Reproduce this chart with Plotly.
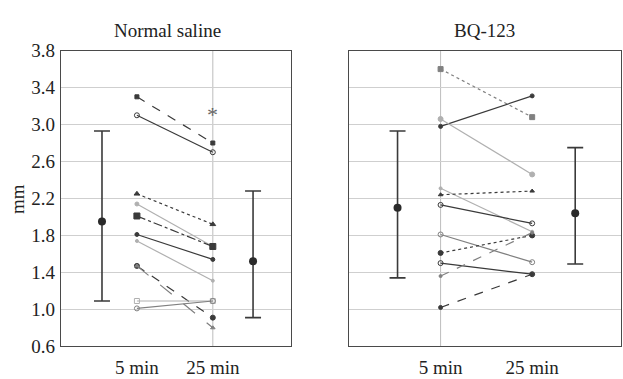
import plotly.graph_objects as go

# ---------------- data ----------------
time_x = [1, 2]
time_labels = ["5 min", "25 min"]
y_ticks = [0.6, 1.0, 1.4, 1.8, 2.2, 2.6, 3.0, 3.4, 3.8]
y_tick_labels = ["0.6", "1.0", "1.4", "1.8", "2.2", "2.6", "3.0", "3.4", "3.8"]

ns_5min = [3.30, 3.10, 2.25, 2.14, 2.01, 1.81, 1.74, 1.47, 1.47, 1.09, 1.01]
ns_25min = [2.80, 2.70, 1.92, 1.68, 1.68, 1.54, 1.31, 0.91, 0.80, 1.09, 1.09]

bq_5min = [3.60, 2.98, 3.06, 2.31, 2.24, 2.13, 1.81, 1.61, 1.50, 1.36, 1.02]
bq_25min = [3.08, 3.31, 2.46, 1.84, 2.28, 1.93, 1.51, 1.80, 1.38, 1.83, 1.38]

# mean +/- sd summaries (left bar = 5 min, right bar = 25 min)
ns_summary_x = [0.54, 2.53]
ns_mean = [1.95, 1.52]
ns_upper = [2.93, 2.28]
ns_lower = [1.09, 0.91]

bq_summary_x = [0.53, 2.47]
bq_mean = [2.10, 2.04]
bq_upper = [2.93, 2.75]
bq_lower = [1.34, 1.49]

ns_star = 3.11

# ---------------- styles ----------------
DARK = "#3a3a3a"
MID = "#808080"
LIGHT = "#b0b0b0"

ns_styles = [
    dict(color=DARK, dash="dash", symbol="square", size=4),
    dict(color=DARK, dash="solid", symbol="circle-open", size=5),
    dict(color=DARK, dash="dot", symbol="triangle-up", size=5),
    dict(color=LIGHT, dash="solid", symbol="circle", size=4),
    dict(color=DARK, dash="dashdot", symbol="square", size=6),
    dict(color=DARK, dash="solid", symbol="circle", size=4),
    dict(color=LIGHT, dash="solid", symbol="circle", size=3),
    dict(color=DARK, dash="dash", symbol="circle", size=5),
    dict(color=MID, dash="longdash", symbol="triangle-up", size=4),
    dict(color=LIGHT, dash="solid", symbol="square-open", size=5),
    dict(color=MID, dash="solid", symbol="circle-open", size=5),
]
bq_styles = [
    dict(color=MID, dash="dot", symbol="square", size=5),
    dict(color=DARK, dash="solid", symbol="circle", size=4),
    dict(color=LIGHT, dash="solid", symbol="circle", size=5),
    dict(color=LIGHT, dash="solid", symbol="circle", size=3),
    dict(color=DARK, dash="dot", symbol="triangle-up", size=4),
    dict(color=DARK, dash="solid", symbol="circle-open", size=5),
    dict(color=MID, dash="solid", symbol="circle-open", size=5),
    dict(color=DARK, dash="dot", symbol="circle", size=5),
    dict(color=DARK, dash="solid", symbol="circle-open", size=5),
    dict(color=MID, dash="dash", symbol="circle", size=3),
    dict(color=DARK, dash="dash", symbol="circle", size=4),
]

FONT = "Liberation Serif"
TXT = "#222222"

fig = go.Figure()


def add_panel(v5, v25, styles, xa, ya):
    for a, b, st in zip(v5, v25, styles):
        fig.add_trace(go.Scatter(
            x=time_x, y=[a, b], mode="lines+markers", xaxis=xa, yaxis=ya,
            line=dict(color=st["color"], dash=st["dash"], width=1.2),
            marker=dict(symbol=st["symbol"], size=st["size"], color=st["color"],
                        line=dict(color=st["color"], width=1)),
            showlegend=False, hoverinfo="skip"))


def add_summary(xs, mean, upper, lower, xa, ya):
    fig.add_trace(go.Scatter(
        x=xs, y=mean, mode="markers", xaxis=xa, yaxis=ya,
        marker=dict(symbol="circle", size=8, color="#2a2a2a"),
        error_y=dict(type="data", symmetric=False,
                     array=[u - m for u, m in zip(upper, mean)],
                     arrayminus=[m - l for m, l in zip(mean, lower)],
                     color="#3a3a3a", thickness=1.6, width=8),
        showlegend=False, hoverinfo="skip"))


add_panel(ns_5min, ns_25min, ns_styles, "x", "y")
add_summary(ns_summary_x, ns_mean, ns_upper, ns_lower, "x", "y")
add_panel(bq_5min, bq_25min, bq_styles, "x2", "y2")
add_summary(bq_summary_x, bq_mean, bq_upper, bq_lower, "x2", "y2")

W, H = 623, 379
y_dom = [(H - 356) / H, (H - 43) / H]

axis_common = dict(showline=True, mirror=True, linecolor="#4a4a4a", linewidth=1.2,
                   ticks="", zeroline=False)
tick_font = dict(family=FONT, size=19, color=TXT)

fig.update_layout(
    width=W, height=H,
    margin=dict(l=0, r=0, t=0, b=0),
    paper_bgcolor="white", plot_bgcolor="white",
    font=dict(family=FONT, size=18, color=TXT),
    xaxis=dict(domain=[61 / W, 291 / W], range=[0, 3.03], tickvals=time_x,
               ticktext=time_labels, showgrid=False, tickfont=tick_font,
               ticklabelstandoff=4, **axis_common),
    yaxis=dict(domain=y_dom, range=[0.6, 3.8], tickvals=y_ticks, ticktext=y_tick_labels,
               showgrid=True, gridcolor="#cfcfcf", gridwidth=1, anchor="x",
               tickfont=tick_font, ticklabelstandoff=1, **axis_common),
    xaxis2=dict(domain=[349 / W, 621 / W], range=[0, 2.97], tickvals=time_x,
                ticktext=time_labels, showgrid=False, anchor="y2", tickfont=tick_font,
                ticklabelstandoff=4, **axis_common),
    yaxis2=dict(domain=y_dom, range=[0.6, 3.8], tickvals=y_ticks, showticklabels=False,
                showgrid=True, gridcolor="#cfcfcf", gridwidth=1, anchor="x2", **axis_common),
    shapes=[
        dict(type="line", xref="x", yref="y domain", x0=2, x1=2, y0=0, y1=1,
             line=dict(color="#bdbdbd", width=1), layer="below"),
        dict(type="line", xref="x2", yref="y2 domain", x0=1, x1=1, y0=0, y1=1,
             line=dict(color="#bdbdbd", width=1), layer="below"),
    ],
    annotations=[
        dict(text="Normal saline", x=167 / W, y=(H - 22) / H, xref="paper", yref="paper",
             showarrow=False, font=dict(family=FONT, size=19, color=TXT),
             xanchor="center", yanchor="middle"),
        dict(text="BQ-123", x=484 / W, y=(H - 22) / H, xref="paper", yref="paper",
             showarrow=False, font=dict(family=FONT, size=19, color=TXT),
             xanchor="center", yanchor="middle"),
        dict(text="mm", x=18 / W, y=(H - 200) / H, xref="paper", yref="paper",
             showarrow=False, textangle=-90, font=dict(family=FONT, size=19, color=TXT),
             xanchor="center", yanchor="middle"),
        dict(text="*", x=2, y=ns_star, xref="x", yref="y", showarrow=False,
             font=dict(family=FONT, size=22, color="#666"),
             xanchor="center", yanchor="middle"),
    ],
)

fig.write_html("out.html")
